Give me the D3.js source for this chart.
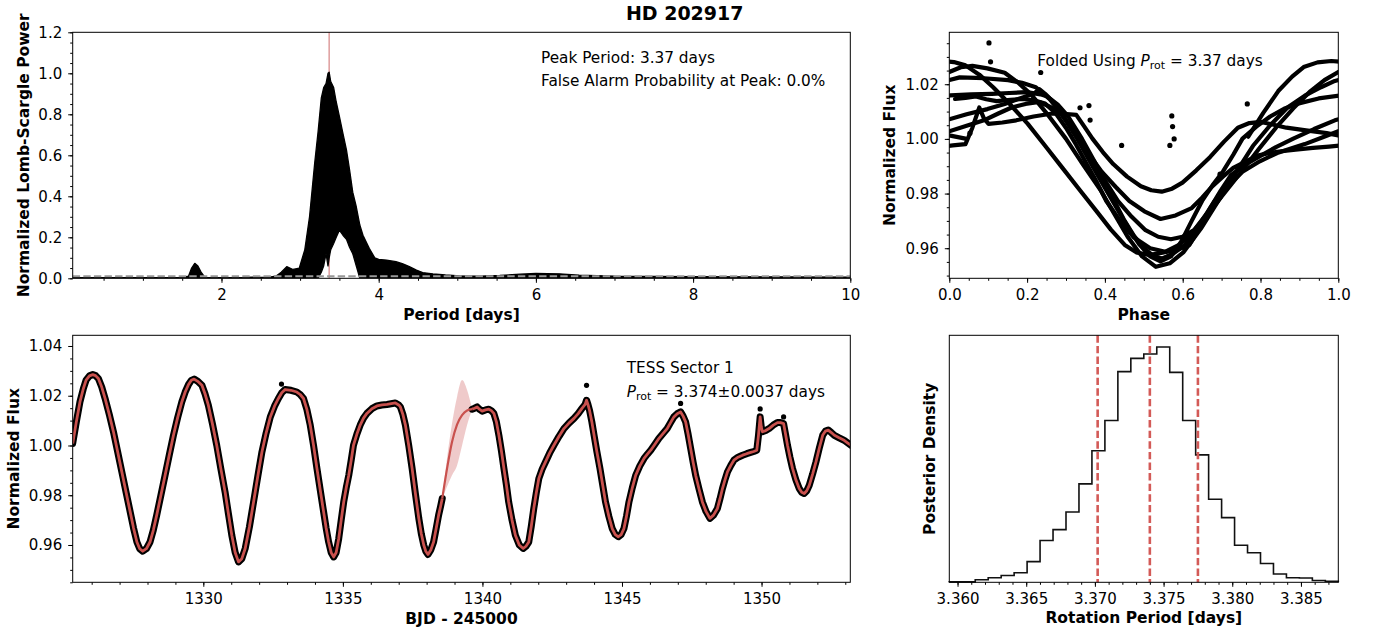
<!DOCTYPE html>
<html>
<head>
<meta charset="utf-8">
<title>HD 202917</title>
<script src="https://cdn.jsdelivr.net/npm/d3@7"></script>
<style>
    body { margin: 0; background: #fff; }
    svg text { font-family: "DejaVu Sans", sans-serif; fill: #000; }
    .tick text { font-size: 15px; }
    .lab { font-size: 15.5px; font-weight: bold; }
    .ann { font-size: 15.3px; }
</style>
</head>
<body>
<script>
// ---- periodogram (envelope of the oscillating LS power) ----
var lsPeriod = [0.107, 0.5, 1.0, 1.5, 1.58, 1.62, 1.66, 1.70, 1.74, 1.79, 2.0, 2.3, 2.4, 2.45, 2.6,
    2.70, 2.76, 2.83, 2.91, 2.99, 3.06, 3.12, 3.185, 3.23, 3.27, 3.30, 3.33, 3.355, 3.37, 3.39,
    3.427, 3.46, 3.50, 3.545, 3.59, 3.63, 3.67, 3.715, 3.76, 3.80, 3.88, 3.95, 4.0, 4.1, 4.22,
    4.30, 4.39, 4.48, 4.56, 4.69, 4.85, 5.03, 5.3, 5.54, 5.8, 6.0, 6.3, 6.55, 7.0, 8.0, 9.0, 10.0];
var lsUpper = [0.003, 0.003, 0.003, 0.004, 0.01, 0.05, 0.073, 0.06, 0.03, 0.005, 0.003, 0.004, 0.006, 0.004, 0.005,
    0.012, 0.03, 0.057, 0.043, 0.05, 0.14, 0.30, 0.56, 0.72, 0.88, 0.93, 0.95, 1.0, 1.005, 0.96,
    0.93, 0.86, 0.79, 0.707, 0.626, 0.528, 0.42, 0.349, 0.26, 0.21, 0.146, 0.10, 0.092, 0.089, 0.081,
    0.072, 0.057, 0.04, 0.028, 0.021, 0.016, 0.012, 0.011, 0.014, 0.02, 0.024, 0.022, 0.015, 0.01, 0.008, 0.007, 0.006];
var lsLower = [0, 0, 0, 0, 0, 0, 0, 0, 0, 0, 0, 0, 0, 0, 0,
    0, 0, 0, 0, 0, 0, 0, 0, 0, 0.03, 0.06, 0.12, 0.06, 0.10, 0.14,
    0.17, 0.20, 0.235, 0.21, 0.19, 0.15, 0.12, 0.06, 0, 0, 0, 0, 0, 0, 0,
    0, 0, 0, 0, 0, 0, 0, 0, 0, 0, 0, 0, 0, 0, 0, 0, 0];
var peakPeriod = 3.37;
var fapLevel = 0.01;

// ---- TESS sector 1 light curve (observed) ----
var lcTime = [1325.32, 1325.45, 1325.58, 1325.70, 1325.80, 1325.92, 1326.04, 1326.14, 1326.24, 1326.36, 1326.48, 1326.63,
    1326.78, 1326.93, 1327.08, 1327.23, 1327.38, 1327.50, 1327.62, 1327.72, 1327.83, 1327.96, 1328.09, 1328.21,
    1328.33, 1328.48, 1328.63, 1328.78, 1328.93, 1329.08, 1329.23, 1329.35, 1329.47, 1329.57, 1329.67, 1329.80,
    1329.95, 1330.06, 1330.18, 1330.33, 1330.48, 1330.63, 1330.78, 1330.90, 1331.02, 1331.14, 1331.26, 1331.38,
    1331.50, 1331.65, 1331.80, 1331.95, 1332.10, 1332.25, 1332.40, 1332.55, 1332.69, 1332.81, 1332.93, 1333.14,
    1333.35, 1333.47, 1333.59, 1333.71, 1333.83, 1333.95, 1334.07, 1334.19, 1334.31, 1334.40, 1334.49, 1334.58,
    1334.67, 1334.76, 1334.85, 1334.94, 1335.03, 1335.12, 1335.21, 1335.30, 1335.38, 1335.50, 1335.62, 1335.74,
    1335.86, 1336.04, 1336.22, 1336.40, 1336.58, 1336.73, 1336.88, 1337.00, 1337.06, 1337.15, 1337.24, 1337.36,
    1337.48, 1337.60, 1337.72, 1337.81, 1337.90, 1337.97, 1338.05, 1338.15, 1338.25, 1338.34, 1338.43, 1338.50,
    1338.56,
    1339.63, 1339.72, 1339.81, 1339.90, 1339.99, 1340.11, 1340.23, 1340.32, 1340.41, 1340.50, 1340.59, 1340.68,
    1340.77, 1340.86, 1340.94, 1341.06, 1341.18, 1341.32, 1341.46, 1341.56, 1341.66, 1341.75, 1341.84, 1341.93,
    1342.02, 1342.14, 1342.26, 1342.41, 1342.56, 1342.74, 1342.92, 1343.10, 1343.28, 1343.43, 1343.58, 1343.68,
    1343.73, 1343.78, 1343.84, 1343.92, 1344.00, 1344.10, 1344.21, 1344.31, 1344.41, 1344.53, 1344.65, 1344.76,
    1344.87, 1344.97, 1345.07, 1345.16, 1345.25, 1345.37, 1345.49, 1345.64, 1345.79, 1345.91, 1346.03, 1346.18,
    1346.32, 1346.47, 1346.62, 1346.74, 1346.86, 1346.98, 1347.10, 1347.19, 1347.28, 1347.37, 1347.46, 1347.55,
    1347.64, 1347.76, 1347.88, 1348.01, 1348.15, 1348.28, 1348.42, 1348.51, 1348.60, 1348.69, 1348.78, 1348.90,
    1349.01, 1349.16, 1349.32, 1349.47, 1349.61, 1349.72, 1349.83, 1349.89, 1349.95, 1349.99, 1350.03, 1350.15,
    1350.27, 1350.42, 1350.57, 1350.68, 1350.79, 1350.86, 1350.93, 1351.02, 1351.11, 1351.23, 1351.35, 1351.44,
    1351.53, 1351.62, 1351.71, 1351.83, 1351.95, 1352.07, 1352.19, 1352.29, 1352.39, 1352.50, 1352.61, 1352.78,
    1352.96, 1353.08, 1353.20];
var lcFlux = [1.0008, 1.0095, 1.0175, 1.0228, 1.0263, 1.0280, 1.0285, 1.0281, 1.0269, 1.0235, 1.0189, 1.0125,
    1.0055, 0.9975, 0.9894, 0.9813, 0.9733, 0.9668, 0.9612, 0.9585, 0.9575, 0.9585, 0.9612, 0.9660,
    0.9720, 0.9800, 0.9880, 0.9962, 1.0041, 1.0112, 1.0175, 1.0215, 1.0245, 1.0262, 1.0267, 1.0258,
    1.0242, 1.0208, 1.0162, 1.0085, 1.0001, 0.9905, 0.9813, 0.9725, 0.9639, 0.9570, 0.9532, 0.9545,
    0.9586, 0.9672, 0.9773, 0.9875, 0.9974, 1.0050, 1.0115, 1.0158, 1.0189, 1.0212, 1.0225, 1.0222,
    1.0215, 1.0205, 1.0189, 1.0145, 1.0082, 1.0000, 0.9908, 0.9820, 0.9733, 0.9668, 0.9612, 0.9570,
    0.9552, 0.9570, 0.9625, 0.9700, 0.9773, 0.9830, 0.9880, 0.9942, 1.0001, 1.0045, 1.0082, 1.0110,
    1.0129, 1.0148, 1.0159, 1.0163, 1.0165, 1.0168, 1.0171, 1.0163, 1.0155, 1.0125, 1.0082, 1.0000,
    0.9908, 0.9805, 0.9707, 0.9645, 0.9599, 0.9575, 0.9562, 0.9580, 0.9612, 0.9665, 0.9720, 0.9755,
    0.9787,
    1.0146, 1.0150, 1.0155, 1.0145, 1.0138, 1.0143, 1.0146, 1.0140, 1.0129, 1.0095, 1.0041, 0.9978,
    0.9908, 0.9840, 0.9773, 0.9700, 0.9639, 0.9600, 0.9586, 0.9595, 0.9612, 0.9675, 0.9747, 0.9810,
    0.9867, 0.9905, 0.9934, 0.9970, 1.0001, 1.0036, 1.0068, 1.0090, 1.0109, 1.0128, 1.0151, 1.0165,
    1.0182, 1.0165, 1.0140, 1.0095, 1.0041, 0.9975, 0.9908, 0.9840, 0.9773, 0.9715, 0.9666, 0.9642,
    0.9633, 0.9642, 0.9666, 0.9715, 0.9773, 0.9830, 0.9880, 0.9918, 0.9948, 0.9965, 0.9981, 1.0005,
    1.0028, 1.0048, 1.0068, 1.0092, 1.0115, 1.0128, 1.0135, 1.0118, 1.0095, 1.0045, 0.9988, 0.9932,
    0.9880, 0.9825, 0.9773, 0.9735, 0.9707, 0.9720, 0.9747, 0.9785, 0.9827, 0.9862, 0.9894, 0.9920,
    0.9941, 0.9953, 0.9961, 0.9967, 0.9972, 0.9976, 0.9981, 1.0041, 1.0115, 1.0075, 1.0055, 1.0060,
    1.0068, 1.0082, 1.0092, 1.0092, 1.0088, 1.0045, 1.0001, 0.9952, 0.9908, 0.9862, 0.9827, 0.9812,
    0.9807, 0.9818, 0.9840, 0.9885, 0.9934, 0.9990, 1.0041, 1.0058, 1.0062, 1.0052, 1.0041, 1.0031,
    1.0021, 1.0011, 1.0001];
var lcOutTime = [1332.80, 1343.73, 1347.10, 1349.95, 1350.79];
var lcOutFlux = [1.0247, 1.0242, 1.0169, 1.0147, 1.0115];

// GP prediction across the data gap
var gpTime = [1338.56, 1338.73, 1338.91, 1339.09, 1339.27, 1339.45, 1339.63];
var gpMean = [0.9787, 0.9906, 1.0014, 1.0084, 1.0122, 1.0141, 1.0146];
var gpUpper = [0.9787, 0.9948, 1.0088, 1.0195, 1.0263, 1.0223, 1.0146];
var gpLower = [0.9787, 0.9834, 0.9880, 0.9920, 1.0000, 1.0082, 1.0146];

// ---- folding ----
var foldPeriod = 3.37;
var foldEpoch = 1326.1;
var foldOutPhase = [0.102, 0.106, 0.235, 0.336, 0.359, 0.362, 0.572, 0.574, 0.578, 0.567, 0.766, 0.696, 0.053, 0.443];
var foldOutFlux = [1.0351, 1.0282, 1.0243, 1.0114, 1.0122, 1.0069, 1.0084, 1.0045, 1.0000, 0.9976, 1.0128, 0.9871, 1.0021, 0.9976];

// ---- posterior of rotation period ----
var histStart = 3.3594, histBin = 0.000944;
var histDensity = [0.2, 0.2, 1.2, 2.1, 3.1, 4.4, 9.5, 19.2, 24.2, 32.3, 45.2, 60.4, 74.3, 96.7, 102.8,
    104.8, 108.0, 96.4, 74.3, 58.5, 38.1, 29.7, 17.0, 13.6, 8.6, 3.8, 2.1, 2.0, 0.8, 0.5];
var protPercentiles = [3.3702, 3.3740, 3.3775];

var red = "#c9514e";

var svg = d3.select("body").append("svg")
        .attr("width", 1378)
        .attr("height", 637);

var boxA = {x: 72.7, y: 32.3, w: 777.6, h: 246},
    boxB = {x: 949.3, y: 32.3, w: 389, h: 246},
    boxC = {x: 72.7, y: 335.3, w: 777.6, h: 247},
    boxD = {x: 949.3, y: 335.3, w: 389, h: 247};

function panel(box, id) {
    var g = svg.append("g").attr("transform", "translate(" + box.x + "," + box.y + ")");
    svg.append("clipPath").attr("id", id).append("rect").attr("width", box.w).attr("height", box.h);
    return g;
}

// integer range a..b divided by div, avoids float drift in tick positions
function steps(a, b, div) {
    return d3.range(a, b + 1).map(function (i) { return i / div; });
}

function axes(g, box, x, y, o) {
    g.append("g").attr("transform", "translate(0," + box.h + ")")
        .call(d3.axisBottom(x).tickValues(o.xm).tickFormat("").tickSize(2.5));
    g.append("g").attr("transform", "translate(0," + box.h + ")")
        .call(d3.axisBottom(x).tickValues(o.xt).tickFormat(o.xf).tickSize(4.5).tickPadding(6.5));
    if (o.yt) {
        g.append("g").call(d3.axisLeft(y).tickValues(o.ym).tickFormat("").tickSize(2.5));
        g.append("g").call(d3.axisLeft(y).tickValues(o.yt).tickFormat(o.yf).tickSize(4.5).tickPadding(6));
    }
    g.selectAll(".domain").remove();
    g.selectAll(".tick line").attr("stroke", "#000").attr("stroke-width", 1);
    g.append("rect").attr("width", box.w).attr("height", box.h)
        .attr("fill", "none").attr("stroke", "#000").attr("stroke-width", 1);
}

function xlabel(box, txt, base) {
    svg.append("text").attr("class", "lab").attr("x", box.x + box.w / 2).attr("y", base)
        .attr("text-anchor", "middle").text(txt);
}

function ylabel(box, txt, bx) {
    svg.append("text").attr("class", "lab").attr("text-anchor", "middle")
        .attr("transform", "translate(" + bx + "," + (box.y + box.h / 2) + ")rotate(-90)")
        .text(txt);
}

// ================= A: periodogram =================
var gA = panel(boxA, "clipA");
var xA = d3.scaleLinear().domain([0.107, 10]).range([0, boxA.w]);
var yA = d3.scaleLinear().domain([0, 1.2]).range([boxA.h, 0]);
var lsData = lsPeriod.map(function (p, i) { return {p: p, lo: lsLower[i], hi: lsUpper[i]}; });

gA.append("line").attr("x1", xA(peakPeriod)).attr("x2", xA(peakPeriod))
    .attr("y1", 0).attr("y2", boxA.h).attr("stroke", "#e0a3a3").attr("stroke-width", 1.6);
gA.append("path").datum(lsData)
    .attr("clip-path", "url(#clipA)")
    .attr("d", d3.area().x(function (d) { return xA(d.p); })
        .y0(function (d) { return yA(d.lo); }).y1(function (d) { return yA(d.hi); }))
    .attr("fill", "#000").attr("stroke", "#000").attr("stroke-width", 1.3).attr("stroke-linejoin", "round");
gA.append("line").attr("x1", 0).attr("x2", boxA.w)
    .attr("y1", yA(fapLevel)).attr("y2", yA(fapLevel))
    .attr("stroke", "#999").attr("stroke-width", 2).attr("stroke-dasharray", "7.4,3.2");
axes(gA, boxA, xA, yA, {
    xt: [2, 4, 6, 8, 10], xf: d3.format("d"), xm: steps(1, 20, 2),
    yt: steps(0, 6, 5), yf: d3.format(".1f"), ym: steps(0, 24, 20)
});
gA.append("text").attr("class", "ann").attr("x", 541 - boxA.x).attr("y", 63.3 - boxA.y)
    .text("Peak Period: 3.37 days");
gA.append("text").attr("class", "ann").attr("x", 541 - boxA.x).attr("y", 86.3 - boxA.y)
    .text("False Alarm Probability at Peak: 0.0%");
xlabel(boxA, "Period [days]", 320);
ylabel(boxA, "Normalized Lomb-Scargle Power", 28.5);

// ================= B: folded light curve =================
var gB = panel(boxB, "clipB");
var xB = d3.scaleLinear().domain([0, 1]).range([0, boxB.w]);
var yB = d3.scaleLinear().domain([0.949, 1.039]).range([boxB.h, 0]);

// split observed light curve at the data gap
var segs = [], cur = [];
lcTime.forEach(function (t, i) {
    if (i > 0 && t - lcTime[i - 1] > 0.5) { segs.push(cur); cur = []; }
    cur.push({t: t, f: lcFlux[i], u: (t - foldEpoch) / foldPeriod});
});
segs.push(cur);

var gBc = gB.append("g").attr("clip-path", "url(#clipB)");
d3.range(-1, 9).forEach(function (k) {
    segs.forEach(function (s) {
        gBc.append("path").datum(s)
            .attr("d", d3.line().x(function (d) { return xB(d.u - k); }).y(function (d) { return yB(d.f); }))
            .attr("fill", "none").attr("stroke", "#000").attr("stroke-width", 4.2)
            .attr("stroke-linejoin", "round").attr("stroke-linecap", "round");
    });
});
gBc.selectAll("circle.out").data(foldOutPhase).enter().append("circle")
    .attr("cx", function (d) { return xB(d); })
    .attr("cy", function (d, i) { return yB(foldOutFlux[i]); })
    .attr("r", 2.6).attr("fill", "#000");
axes(gB, boxB, xB, yB, {
    xt: steps(0, 5, 5), xf: d3.format(".1f"), xm: steps(0, 20, 20),
    yt: [0.96, 0.98, 1.00, 1.02], yf: d3.format(".2f"), ym: steps(190, 207, 200)
});
var tB = gB.append("text").attr("class", "ann").attr("x", 1037.3 - boxB.x).attr("y", 66 - boxB.y);
tB.append("tspan").text("Folded Using ");
tB.append("tspan").attr("font-style", "italic").text("P");
tB.append("tspan").attr("font-size", "11px").attr("dy", 3.5).text("rot");
tB.append("tspan").attr("dy", -3.5).text(" = 3.37 days");
xlabel(boxB, "Phase", 320);
ylabel(boxB, "Normalized Flux", 895.3);

// ================= C: light curve =================
var gC = panel(boxC, "clipC");
var xC = d3.scaleLinear().domain([1325.32, 1353.18]).range([0, boxC.w]);
var yC = d3.scaleLinear().domain([0.945, 1.0443]).range([boxC.h, 0]);
var gCc = gC.append("g").attr("clip-path", "url(#clipC)");
var gp = gpTime.map(function (t, i) { return {t: t, m: gpMean[i], lo: gpLower[i], hi: gpUpper[i]}; });

gCc.append("path").datum(gp)
    .attr("d", d3.area().curve(d3.curveMonotoneX).x(function (d) { return xC(d.t); })
        .y0(function (d) { return yC(d.lo); }).y1(function (d) { return yC(d.hi); }))
    .attr("fill", red).attr("fill-opacity", 0.3);
var lineC = d3.line().x(function (d) { return xC(d.t); }).y(function (d) { return yC(d.f); });
segs.forEach(function (s) {
    gCc.append("path").datum(s).attr("d", lineC)
        .attr("fill", "none").attr("stroke", "#000").attr("stroke-width", 7)
        .attr("stroke-linejoin", "round").attr("stroke-linecap", "round");
});
gCc.selectAll("circle.out").data(lcOutTime).enter().append("circle")
    .attr("cx", function (d) { return xC(d); })
    .attr("cy", function (d, i) { return yC(lcOutFlux[i]); })
    .attr("r", 2.6).attr("fill", "#000");
segs.forEach(function (s) {
    gCc.append("path").datum(s).attr("d", lineC)
        .attr("fill", "none").attr("stroke", red).attr("stroke-width", 2.8)
        .attr("stroke-linejoin", "round");
});
gCc.append("path").datum(gp)
    .attr("d", d3.line().curve(d3.curveMonotoneX).x(function (d) { return xC(d.t); }).y(function (d) { return yC(d.m); }))
    .attr("fill", "none").attr("stroke", red).attr("stroke-width", 2.2);
axes(gC, boxC, xC, yC, {
    xt: [1330, 1335, 1340, 1345, 1350], xf: d3.format("d"), xm: d3.range(1326, 1354),
    yt: [0.96, 0.98, 1.00, 1.02, 1.04], yf: d3.format(".2f"), ym: steps(189, 208, 200)
});
gC.append("text").attr("class", "ann").attr("x", 626.7 - boxC.x).attr("y", 373.3 - boxC.y)
    .text("TESS Sector 1");
var tC = gC.append("text").attr("class", "ann").attr("x", 626.7 - boxC.x).attr("y", 396.7 - boxC.y);
tC.append("tspan").attr("font-style", "italic").text("P");
tC.append("tspan").attr("font-size", "11px").attr("dy", 3.5).text("rot");
tC.append("tspan").attr("dy", -3.5).text(" = 3.374\u00b10.0037 days");
xlabel(boxC, "BJD - 245000", 624);
ylabel(boxC, "Normalized Flux", 18.6);

// ================= D: posterior histogram =================
var gD = panel(boxD, "clipD");
var histEnd = histStart + histDensity.length * histBin;
var xD = d3.scaleLinear().domain([histStart, histEnd]).range([0, boxD.w]);
var yD = d3.scaleLinear().domain([0, d3.max(histDensity) * 1.05]).range([boxD.h, 0]);
var stepPts = [[histStart, 0]];
histDensity.forEach(function (h, i) {
    stepPts.push([histStart + i * histBin, h]);
    stepPts.push([histStart + (i + 1) * histBin, h]);
});
stepPts.push([histEnd, 0]);
gD.append("path").datum(stepPts)
    .attr("d", d3.line().x(function (d) { return xD(d[0]); }).y(function (d) { return yD(d[1]); }))
    .attr("fill", "none").attr("stroke", "#111").attr("stroke-width", 1.6);
gD.selectAll("line.pct").data(protPercentiles).enter().append("line")
    .attr("x1", function (d) { return xD(d); }).attr("x2", function (d) { return xD(d); })
    .attr("y1", 0).attr("y2", boxD.h)
    .attr("stroke", "#d35a57").attr("stroke-width", 2.6).attr("stroke-dasharray", "7.4,3.2");
axes(gD, boxD, xD, yD, {
    xt: steps(672, 677, 200), xf: d3.format(".3f"), xm: steps(3360, 3387, 1000)
});
xlabel(boxD, "Rotation Period [days]", 623);
ylabel(boxD, "Posterior Density", 934.6);

// title
svg.append("text").attr("x", 684.7).attr("y", 19.5).attr("text-anchor", "middle")
    .attr("font-size", "19px").attr("font-weight", "bold").text("HD 202917");
</script>
</body>
</html>
